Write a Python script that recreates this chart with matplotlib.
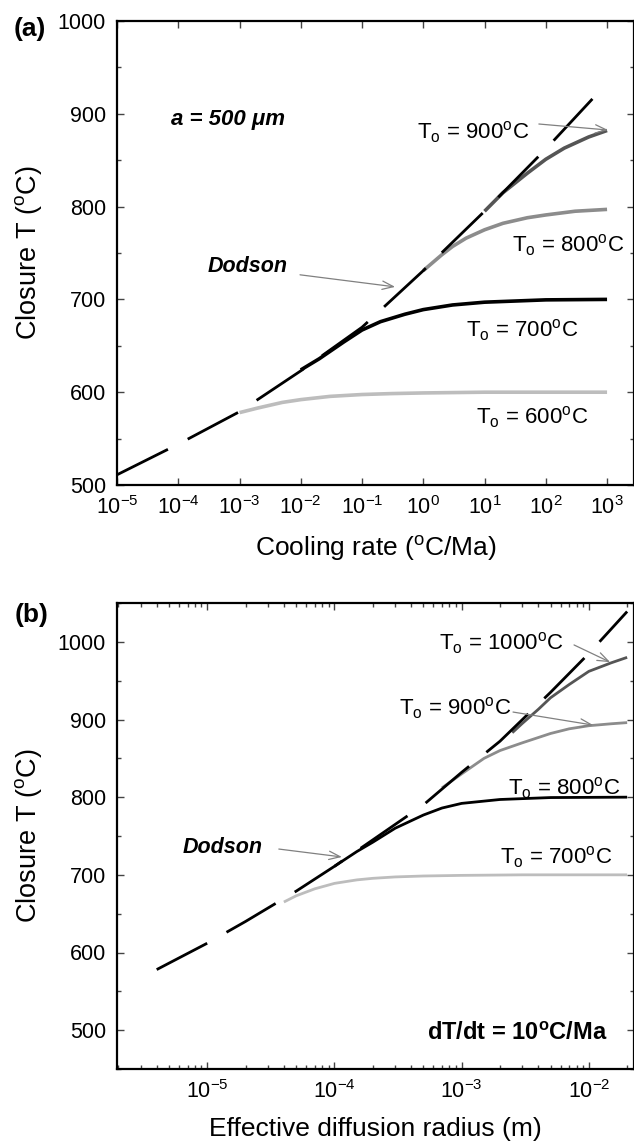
import matplotlib
matplotlib.use("Agg")
import matplotlib.pyplot as plt
from matplotlib import font_manager as fm
from matplotlib.ticker import LogLocator, NullLocator, MultipleLocator, FixedLocator, NullFormatter

names = {f.name for f in fm.fontManager.ttflist}
FONT = "Liberation Sans" if "Liberation Sans" in names else "DejaVu Sans"
plt.rcParams['font.family'] = [FONT, 'DejaVu Sans']
plt.rcParams['mathtext.fontset'] = 'custom'
plt.rcParams['mathtext.rm'] = FONT
plt.rcParams['mathtext.it'] = FONT + ':italic'
plt.rcParams['mathtext.bf'] = FONT + ':bold'

# ---------------- Panel (a) data: closure T vs cooling rate ----------------
dodson_a_rate = [1e-5, 1e-4, 1e-3, 1e-2, 1e-1, 1e0, 1e1, 1e2, 1e3]
dodson_a_T = [511, 544, 579, 623, 670, 731, 795, 862, 933]

a600_rate = [1e-3, 2e-3, 5e-3, 1e-2, 3e-2, 1e-1, 3e-1, 1e0, 1e1, 1e3]
a600_T = [578, 583, 589, 592, 595.5, 597.5, 598.5, 599.2, 600, 600]
a700_rate = [1e-2, 2e-2, 5e-2, 1e-1, 2e-1, 5e-1, 1e0, 3e0, 1e1, 1e2, 1e3]
a700_T = [624, 636, 654, 667, 676, 684, 689, 694, 697, 699.5, 700]
a800_rate = [1e0, 2e0, 3e0, 5e0, 1e1, 2e1, 5e1, 1e2, 3e2, 1e3]
a800_T = [731, 748, 757, 766, 775, 782, 788, 791, 795, 797]
a900_rate = [1e1, 2e1, 5e1, 1e2, 2e2, 5e2, 1e3]
a900_T = [795, 815, 836, 851, 863, 875, 882]

# ---------------- Panel (b) data: closure T vs diffusion radius ----------------
dodson_b_r = [4e-6, 1e-5, 2e-5, 5e-5, 1e-4, 2e-4, 5e-4, 1e-3, 2e-3, 5e-3, 1e-2, 2e-2]
dodson_b_T = [578, 612, 640, 679, 711, 745, 790, 832, 872, 935, 985, 1039]

b700_r = [4e-5, 5e-5, 7e-5, 1e-4, 1.5e-4, 2e-4, 3e-4, 5e-4, 1e-3, 3e-3, 2e-2]
b700_T = [665, 673, 682, 689, 693.5, 695.5, 697.3, 698.5, 699.3, 700, 700]
b800_r = [1e-4, 1.5e-4, 2e-4, 3e-4, 5e-4, 7e-4, 1e-3, 2e-3, 5e-3, 2e-2]
b800_T = [711, 730, 742, 760, 777, 786, 792, 797, 799.5, 800]
b900_r = [7e-4, 1e-3, 1.5e-3, 2e-3, 3e-3, 5e-3, 7e-3, 1e-2, 1.5e-2, 2e-2]
b900_T = [812, 830, 850, 860, 870, 882, 888, 892, 894.5, 896]
b1000_r = [2.5e-3, 3e-3, 4e-3, 5e-3, 7e-3, 1e-2, 1.5e-2, 2e-2]
b1000_T = [883, 895, 913, 928, 945, 962, 973, 980]

a_xticks = [1e-5, 1e-4, 1e-3, 1e-2, 1e-1, 1e0, 1e1, 1e2, 1e3]
a_xticklabels = ["$10^{-5}$", "$10^{-4}$", "$10^{-3}$", "$10^{-2}$", "$10^{-1}$",
                 "$10^{0}$", "$10^{1}$", "$10^{2}$", "$10^{3}$"]
a_yticks = [500, 600, 700, 800, 900, 1000]
b_xticks = [1e-5, 1e-4, 1e-3, 1e-2]
b_xticklabels = ["$10^{-5}$", "$10^{-4}$", "$10^{-3}$", "$10^{-2}$"]
b_yticks = [500, 600, 700, 800, 900, 1000]

W, H = 634, 1142
fig = plt.figure(figsize=(W / 100, H / 100), dpi=100)

L = 117 / W
AW = (634 - 117) / W
axA = fig.add_axes([L, 1 - 485 / H, AW, 464 / H])
axB = fig.add_axes([L, 1 - 1069 / H, AW, 466 / H])

DLW = 2.0
DASH = (0, (20.5, 8.0))
LIGHT = "#bdbdbd"
MID = "#8c8c8c"
DARK = "#555555"
ARROW = "#808080"

def style_axes(ax):
    for s in ax.spines.values():
        s.set_linewidth(1.6)
    ax.tick_params(which='both', direction='in', top=True, right=True,
                   labelsize=15.5, width=1.0, color='#444444')
    ax.tick_params(which='major', length=5, pad=8)
    ax.tick_params(which='minor', length=3)
    ax.yaxis.set_minor_locator(MultipleLocator(50))

def tlabel(t):
    return "T$_{\\rm o}$ = " + t + "$^{\\rm o}$C"

def arrow(ax, tail, head):
    ax.annotate("", xy=head, xytext=tail, xycoords='axes fraction',
                textcoords='axes fraction',
                arrowprops=dict(arrowstyle='->,head_length=0.8,head_width=0.3',
                                color=ARROW, lw=0.9, shrinkA=0, shrinkB=0))

# ---------------- Panel (a) ----------------
ax = axA
ax.set_xscale('log')
ax.plot(a600_rate, a600_T, color=LIGHT, lw=2.6, solid_capstyle='butt')
ax.plot(a700_rate, a700_T, color='black', lw=2.6, solid_capstyle='butt')
ax.plot(a800_rate, a800_T, color=MID, lw=2.6, solid_capstyle='butt')
ax.plot(a900_rate, a900_T, color=DARK, lw=2.6, solid_capstyle='butt')
ax.plot(dodson_a_rate, dodson_a_T, color='black', lw=DLW, linestyle=DASH,
        dash_capstyle='butt')
ax.set_xlim(1e-5, 10 ** 3.44)
ax.set_ylim(500, 1000)
ax.xaxis.set_major_locator(FixedLocator(a_xticks))
ax.set_xticklabels(a_xticklabels)
ax.xaxis.set_minor_locator(NullLocator())
ax.set_yticks(a_yticks)
style_axes(ax)
ax.set_xlabel("Cooling rate ($^{\\rm o}$C/Ma)", fontsize=19, labelpad=11)
ax.set_ylabel("Closure T ($^{\\rm o}$C)", fontsize=19.5, labelpad=10)

ax.text(0.215, 0.787, "a = 500 μm", transform=ax.transAxes, fontsize=16,
        fontweight='bold', fontstyle='italic', ha='center', va='center')
ax.text(0.580, 0.761, tlabel("900"), transform=ax.transAxes, fontsize=16,
        ha='left', va='center')
arrow(ax, (0.816, 0.778), (0.950, 0.765))
ax.text(0.764, 0.517, tlabel("800"), transform=ax.transAxes, fontsize=16,
        ha='left', va='center')
ax.text(0.253, 0.470, "Dodson", transform=ax.transAxes, fontsize=15.5,
        fontweight='bold', fontstyle='italic', ha='center', va='center')
arrow(ax, (0.354, 0.453), (0.538, 0.427))
ax.text(0.675, 0.334, tlabel("700"), transform=ax.transAxes, fontsize=16,
        ha='left', va='center')
ax.text(0.694, 0.147, tlabel("600"), transform=ax.transAxes, fontsize=16,
        ha='left', va='center')
fig.text(0.047, 0.975, "(a)", fontsize=19, fontweight='bold', ha='center', va='center')

# ---------------- Panel (b) ----------------
ax = axB
ax.set_xscale('log')
ax.plot(b700_r, b700_T, color=LIGHT, lw=2.0, solid_capstyle='butt')
ax.plot(b800_r, b800_T, color='black', lw=2.0, solid_capstyle='butt')
ax.plot(b900_r, b900_T, color=MID, lw=2.0, solid_capstyle='butt')
ax.plot(b1000_r, b1000_T, color=DARK, lw=2.0, solid_capstyle='butt')
ax.plot(dodson_b_r, dodson_b_T, color='black', lw=DLW, linestyle=DASH,
        dash_capstyle='butt')
ax.set_xlim(10 ** -5.71, 10 ** -1.645)
ax.set_ylim(450, 1050)
ax.xaxis.set_major_locator(FixedLocator(b_xticks))
ax.set_xticklabels(b_xticklabels)
ax.xaxis.set_minor_locator(LogLocator(base=10, subs=range(2, 10), numticks=20))
ax.xaxis.set_minor_formatter(NullFormatter())
ax.set_yticks(b_yticks)
style_axes(ax)
ax.set_xlabel("Effective diffusion radius (m)", fontsize=19, labelpad=10)
ax.set_ylabel("Closure T ($^{\\rm o}$C)", fontsize=19.5, labelpad=10)

ax.text(0.623, 0.914, tlabel("1000"), transform=ax.transAxes, fontsize=16,
        ha='left', va='center')
arrow(ax, (0.884, 0.910), (0.954, 0.873))
ax.text(0.545, 0.775, tlabel("900"), transform=ax.transAxes, fontsize=16,
        ha='left', va='center')
arrow(ax, (0.766, 0.766), (0.921, 0.738))
ax.text(0.756, 0.603, tlabel("800"), transform=ax.transAxes, fontsize=16,
        ha='left', va='center')
ax.text(0.205, 0.476, "Dodson", transform=ax.transAxes, fontsize=15.5,
        fontweight='bold', fontstyle='italic', ha='center', va='center')
arrow(ax, (0.313, 0.472), (0.435, 0.455))
ax.text(0.741, 0.455, tlabel("700"), transform=ax.transAxes, fontsize=16,
        ha='left', va='center')
ax.text(0.948, 0.077, "dT/dt = 10$^{\\mathbf{o}}$C/Ma", transform=ax.transAxes,
        fontsize=17, fontweight='bold', ha='right', va='center')
fig.text(0.049, 1 - 615 / H, "(b)", fontsize=19, fontweight='bold', ha='center', va='center')

fig.savefig("out.png", dpi=100)
